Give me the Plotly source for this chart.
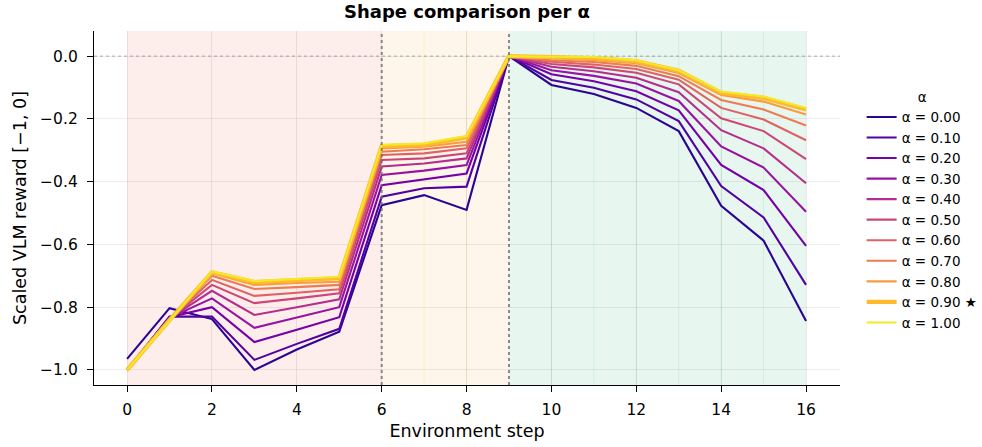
import plotly.graph_objects as go

steps = list(range(17))
alphas = [0.0, 0.1, 0.2, 0.3, 0.4, 0.5, 0.6, 0.7, 0.8, 0.9, 1.0]
best_alpha = 0.9

a00 = [-0.965, -0.803, -0.838, -1.000, -0.935, -0.878, -0.475, -0.443, -0.490, 0.0, -0.092, -0.121, -0.165, -0.239, -0.477, -0.588, -0.844]
a01 = [-1.000, -0.830, -0.830, -0.968, -0.917, -0.869, -0.448, -0.421, -0.416, 0.0, -0.076, -0.101, -0.138, -0.207, -0.414, -0.514, -0.729]
a02 = [-1.000, -0.832, -0.800, -0.911, -0.872, -0.832, -0.411, -0.393, -0.374, 0.0, -0.058, -0.080, -0.112, -0.173, -0.347, -0.427, -0.605]
a03 = [-1.000, -0.834, -0.772, -0.866, -0.833, -0.800, -0.379, -0.365, -0.347, 0.0, -0.045, -0.063, -0.087, -0.143, -0.288, -0.355, -0.496]
a04 = [-1.000, -0.836, -0.748, -0.825, -0.800, -0.775, -0.352, -0.342, -0.326, 0.0, -0.034, -0.048, -0.069, -0.115, -0.236, -0.294, -0.405]
a05 = [-1.000, -0.837, -0.729, -0.787, -0.772, -0.756, -0.331, -0.326, -0.310, 0.0, -0.025, -0.036, -0.053, -0.090, -0.198, -0.239, -0.328]
a06 = [-1.000, -0.838, -0.713, -0.764, -0.754, -0.743, -0.315, -0.310, -0.294, 0.0, -0.018, -0.027, -0.041, -0.075, -0.165, -0.202, -0.268]
a07 = [-1.000, -0.839, -0.700, -0.742, -0.736, -0.729, -0.305, -0.297, -0.283, 0.0, -0.013, -0.019, -0.031, -0.064, -0.140, -0.170, -0.221]
a08 = [-1.000, -0.840, -0.692, -0.729, -0.723, -0.719, -0.294, -0.289, -0.273, 0.0, -0.007, -0.013, -0.023, -0.054, -0.124, -0.145, -0.186]
a09 = [-1.000, -0.841, -0.689, -0.720, -0.714, -0.708, -0.287, -0.283, -0.259, 0.0, -0.003, -0.006, -0.016, -0.047, -0.117, -0.133, -0.170]
a10 = [-1.000, -0.842, -0.686, -0.717, -0.710, -0.703, -0.283, -0.278, -0.255, 0.0, -0.002, -0.003, -0.013, -0.045, -0.113, -0.129, -0.165]
series = [a00, a01, a02, a03, a04, a05, a06, a07, a08, a09, a10]

colors = ["#2a0593", "#5102a3", "#7501a8", "#9814a0", "#b42e8d", "#cc4778",
          "#df6264", "#ee7b51", "#fa9b3d", "#feba2c", "#f4e926"]

phases = [(0, 6, "rgba(231,76,60,0.10)", "rgba(231,76,60,0.0)"),
          (6, 9, "rgba(243,156,18,0.09)", "rgba(243,156,18,0.10)"),
          (9, 16, "rgba(39,174,96,0.11)", "rgba(39,174,96,0.10)")]
boundaries = [6, 9]

FONT = "DejaVu Sans"
fig = go.Figure()

for a, ys, c in zip(alphas, series, colors):
    best = abs(a - best_alpha) < 1e-9
    name = f"α = {a:.2f}" + (" ★" if best else "")
    fig.add_trace(go.Scatter(
        x=steps, y=ys, mode="lines", name=name,
        line=dict(color=c, width=4.2 if best else 2.1),
    ))

shapes = []
for x0, x1, fill, stepc in phases:
    shapes.append(dict(type="rect", xref="x", yref="paper", x0=x0, x1=x1, y0=0, y1=1,
                       fillcolor=fill, line=dict(width=0), layer="below"))
    for s in range(x0 + 1, x1):
        shapes.append(dict(type="line", xref="x", yref="paper", x0=s, x1=s, y0=0, y1=1,
                           line=dict(color=stepc, width=1), layer="below"))
shapes.append(dict(type="line", xref="paper", yref="y", x0=0, x1=1, y0=0, y1=0,
                   line=dict(color="rgba(120,120,120,0.6)", width=1, dash="dot"), layer="below"))
for b in boundaries:
    shapes.append(dict(type="line", xref="x", yref="paper", x0=b, x1=b, y0=0, y1=1,
                       line=dict(color="rgba(110,110,110,0.8)", width=2, dash="dot"), layer="above"))

yticks = [0.0, -0.2, -0.4, -0.6, -0.8, -1.0]
fig.update_layout(
    width=982, height=447,
    margin=dict(l=94, r=142, t=31, b=62, autoexpand=False),
    paper_bgcolor="white", plot_bgcolor="white",
    font=dict(family=FONT, size=15, color="black"),
    title=dict(text="<b>Shape comparison per α</b>", x=467 / 982, xanchor="center",
               y=1 - 12 / 447, yanchor="middle", font=dict(size=18)),
    shapes=shapes,
    showlegend=True,
    legend=dict(title=dict(text="α", side="top center", font=dict(size=13.5)),
                x=1.029, xanchor="left", y=0.85, yanchor="top",
                font=dict(size=13.5), bgcolor="rgba(0,0,0,0)", tracegroupgap=0,
                itemwidth=30),
)
fig.update_xaxes(range=[-0.78, 16.8], tickvals=list(range(0, 17, 2)), ticks="outside", ticklen=6,
                 tickcolor="black", showline=True, linecolor="black", linewidth=1.3,
                 ticklabelstandoff=4, tickfont=dict(size=15.5),
                 showgrid=True, gridcolor="rgba(0,0,0,0.08)", gridwidth=1, zeroline=False,
                 title=dict(text="Environment step", font=dict(size=17.5), standoff=6))
fig.update_yaxes(range=[-1.048, 0.08], tickvals=yticks,
                 ticktext=[("−" if v < 0 else "") + f"{abs(v):.1f}" for v in yticks],
                 ticks="outside", ticklen=6, tickcolor="black", showline=True, linecolor="black",
                 ticklabelstandoff=6, tickfont=dict(size=15.5),
                 linewidth=1.3, showgrid=True, gridcolor="rgba(0,0,0,0.07)", gridwidth=1, zeroline=False,
                 title=dict(text="Scaled VLM reward [−1, 0]", font=dict(size=17.5), standoff=8))

fig.write_html("out.html")
